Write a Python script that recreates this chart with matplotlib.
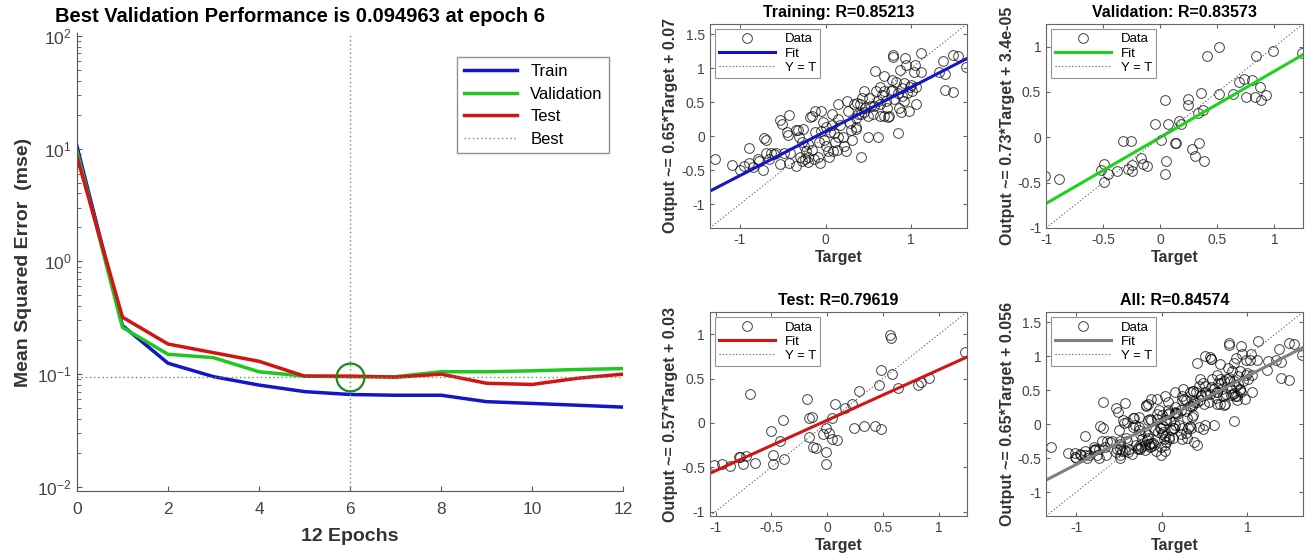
import numpy as np
import matplotlib
matplotlib.use("Agg")
import matplotlib.pyplot as plt
from matplotlib.ticker import LogLocator, NullFormatter

# performance curve (mse per epoch)
epochs = list(range(13))
mse_train = [10.5, 0.27, 0.125, 0.095, 0.080, 0.070, 0.066, 0.065, 0.065, 0.057, 0.055, 0.053, 0.051]
mse_val = [9.5, 0.26, 0.150, 0.140, 0.105, 0.096, 0.094963, 0.095, 0.105, 0.105, 0.107, 0.110, 0.112]
mse_test = [8.5, 0.32, 0.185, 0.155, 0.130, 0.096, 0.096, 0.094, 0.100, 0.083, 0.081, 0.092, 0.100]
best_epoch = 6
best_perf = 0.094963

# regression data (target, output)
train_t = [-1.29, -1.09, -1.0, -0.95, -0.89, -0.89, -0.85, -0.78, -0.79, -0.73, -0.72, -0.69, -0.70,
           -0.64, -0.58, -0.53, -0.53, -0.51, -0.43, -0.45, -0.44, -0.43, -0.49, -0.34, -0.32, -0.26,
           -0.35, -0.30, -0.27, -0.25, -0.23, -0.20, -0.18, -0.16, -0.20, -0.16, -0.14, -0.12, -0.09,
           -0.07, -0.05, -0.03, -0.02, 0.00, 0.03, 0.04, 0.07, 0.08, 0.10, 0.11, 0.13, 0.15, 0.15, 0.17,
           0.20, 0.22, 0.24, 0.25, 0.26, 0.28, 0.30, 0.31, 0.33, 0.35, 0.36, 0.37, 0.40, 0.41, 0.41,
           0.43, 0.45, 0.46, 0.49, 0.50, 0.51, 0.53, 0.55, 0.58, 0.59, 0.61, 0.61, 0.64, 0.64, 0.66,
           0.68, 0.70, 0.72, 0.73, 0.74, 0.76, 0.77, 0.79, 0.79, 0.80, 0.82, 0.84, 0.84, 0.86, 0.87,
           0.88, 0.89, 0.91, 0.93, 0.94, 0.95, 0.97, 0.98, 1.01, 1.03, 1.04, 1.05, 1.05, 1.11, 1.12,
           1.33, 1.37, 1.39, 1.39, 1.49, 1.49, 1.55, 1.64,
           -0.31, -0.24, -0.28, -0.20, -0.08, 0.00, 0.05, 0.09, 0.15, 0.35, 0.38, 0.45, 0.56, 0.64,
           0.68, 0.68, 0.78, 0.89, 0.91, 1.00, -0.66, -0.60, -0.41, -0.12, -0.05]
train_y = [-0.33, -0.42, -0.50, -0.44, -0.40, -0.17, -0.46, -0.36, -0.34, -0.49, -0.02, -0.06, -0.25,
           -0.25, -0.25, -0.41, 0.24, 0.18, 0.31, 0.06, 0.02, -0.39, -0.25, 0.09, 0.09, 0.10,
           -0.44, -0.30, -0.08, -0.15, -0.22, -0.30, 0.28, 0.29, -0.11, -0.20, -0.34, 0.06, -0.30,
           -0.39, 0.37, 0.21, -0.06, -0.15, -0.22, -0.30, 0.33, 0.16, 0.04, -0.08, -0.20, 0.47, 0.25, 0.16,
           -0.01, -0.15, -0.22, 0.52, 0.37, 0.19, 0.09, -0.06, 0.48, 0.27, 0.13, 0.49, 0.47, -0.31, 0.33,
           0.56, 0.66, 0.42, 0.30, -0.01, 0.56, 0.44, 0.33, 0.96, 0.66, 0.52, -0.01, 0.30, 0.73, 0.61,
           0.88, 0.52, 0.42, 0.28, 0.30, 0.66, 0.82, 1.20, 1.17, 0.54, 0.79, 0.64, 0.04, 0.42, 0.97,
           0.35, 0.71, 0.78, 1.15, 1.04, 0.64, 0.37, 0.73, 0.66, 0.95, 1.04, 0.48, 0.73, 0.95, 1.22,
           0.95, 1.11, 0.91, 0.68, 1.19, 0.65, 1.18, 1.02,
           -0.01, -0.34, -0.37, -0.38, -0.08, 0.14, 0.06, -0.22, -0.01, 0.10, 0.33, 0.35, 0.45, 0.47,
           0.30, 0.66, 0.68, 0.59, 0.52, 0.76, -0.34, -0.26, -0.25, 0.37, 0.07]

val_t = [-1.01, -0.89, -0.49, -0.52, -0.49, -0.46, -0.38, -0.33, -0.26, -0.28, -0.25, -0.25, -0.17,
         -0.15, -0.12, -0.05, 0.04, 0.01, 0.05, 0.04, 0.07, 0.13, 0.14, 0.16, 0.18, 0.24, 0.24, 0.28,
         0.30, 0.34, 0.33, 0.37, 0.36, 0.38, 0.41, 0.51, 0.51, 0.64, 0.69, 0.73, 0.75, 0.80, 0.83,
         0.84, 0.87, 0.88, 0.93, 0.99, 1.24]
val_y = [-0.43, -0.46, -0.29, -0.36, -0.49, -0.40, -0.37, -0.04, -0.04, -0.35, -0.37, -0.30, -0.23,
         -0.29, -0.32, 0.15, 0.41, -0.03, -0.26, -0.40, 0.15, -0.06, -0.06, 0.18, 0.15, 0.42, 0.36, -0.13,
         -0.21, -0.06, 0.27, 0.30, 0.49, -0.26, 0.90, 1.00, 0.48, 0.48, 0.61, 0.64, 0.45, 0.63, 0.45,
         0.90, 0.56, 0.41, 0.47, 0.95, 0.93]

test_t = [-1.01, -0.94, -0.87, -0.79, -0.78, -0.73, -0.75, -0.65, -0.69, -0.50, -0.49, -0.49, -0.42,
          -0.40, -0.39, -0.18, -0.16, -0.14, -0.16, -0.13, -0.10, -0.04, -0.01, -0.01, -0.01, 0.02,
          0.04, 0.07, 0.04, 0.09, 0.16, 0.22, 0.24, 0.28, 0.33, 0.43, 0.46, 0.48, 0.48, 0.56, 0.57,
          0.58, 0.63, 0.81, 0.84, 0.91, 1.23]
test_y = [-0.48, -0.46, -0.49, -0.38, -0.38, -0.37, -0.46, -0.45, 0.33, -0.09, -0.36, -0.46, -0.20,
          0.03, -0.41, 0.27, 0.06, 0.07, -0.16, -0.27, -0.28, -0.12, -0.06, -0.33, -0.46, -0.11,
          0.06, 0.21, -0.18, -0.19, 0.17, 0.21, -0.06, 0.36, -0.03, -0.04, 0.43, -0.07, 0.60, 0.99, 0.96,
          0.55, 0.39, 0.43, 0.46, 0.51, 0.80]

panel_names = ["Training", "Validation", "Test", "All"]
panel_r = [0.85213, 0.83573, 0.79619, 0.84574]
fit_slope = [0.65, 0.73, 0.57, 0.65]
fit_icpt = [0.07, 3.4e-05, 0.03, 0.056]
fit_text = ["0.07", "3.4e-05", "0.03", "0.056"]
fit_colors = ["#1414c8", "#1ed21e", "#d21414", "#808080"]
panel_lims = [(-1.35, 1.65), (-1.0, 1.25), (-1.05, 1.25), (-1.35, 1.65)]
panel_ticks = [[-1, 0, 1], [-1, -0.5, 0, 0.5, 1], [-1, -0.5, 0, 0.5, 1], [-1, 0, 1]]
panel_yticks = [[-1, -0.5, 0, 0.5, 1, 1.5], [-1, -0.5, 0, 0.5, 1], [-1, -0.5, 0, 0.5, 1],
                [-1, -0.5, 0, 0.5, 1, 1.5]]

plt.rcParams['font.family'] = ['Liberation Sans', 'DejaVu Sans']
tick_gray = "#444444"
best_color = "#5f9a5f"

fig = plt.figure(figsize=(13.13, 5.57), dpi=100)

# ---- performance plot
ax = fig.add_axes([0.0586, 0.1185, 0.4160, 0.8223])
ax.semilogy(epochs, mse_train, color="#1414c8", lw=2.5, label="Train")
ax.semilogy(epochs, mse_val, color="#1ec81e", lw=2.5, label="Validation")
ax.semilogy(epochs, mse_test, color="#d21414", lw=2.5, label="Test")
ax.axvline(best_epoch, color=best_color, lw=1, ls=(0, (1, 2)), label="Best")
ax.axhline(best_perf, color=best_color, lw=1, ls=(0, (1, 2)))
ax.plot(best_epoch, best_perf, 'o', ms=20, mfc='none', mec="#1a8a1a", mew=1.6)
ax.set_xlim(0, 12)
ax.set_ylim(0.0092, 106)
ax.set_xticks(range(0, 13, 2))
ax.set_yticks([0.01, 0.1, 1, 10, 100])
ax.yaxis.set_minor_locator(LogLocator(base=10, subs=np.arange(2, 10), numticks=20))
ax.yaxis.set_minor_formatter(NullFormatter())
for s in ["top", "right"]:
    ax.spines[s].set_visible(False)
for s in ["left", "bottom"]:
    ax.spines[s].set_color("#555555")
ax.tick_params(which="both", direction="in", colors="#555555", labelcolor=tick_gray, labelsize=12.5)
ax.tick_params(axis="x", pad=8)
ax.tick_params(which="minor", length=3)
ax.set_title("Best Validation Performance is 0.094963 at epoch 6", fontsize=14.5,
             fontweight="bold", loc="left", x=-0.04, pad=8)
ax.set_xlabel("12 Epochs", fontsize=14, fontweight="bold", color="#333333", labelpad=8)
ax.set_ylabel("Mean Squared Error  (mse)", fontsize=14, fontweight="bold", color="#333333")
leg = ax.legend(loc="upper right", bbox_to_anchor=(0.99, 0.965), fontsize=12, handlelength=3.2,
                fancybox=False, edgecolor="#777777", borderpad=0.4, labelspacing=0.45)
leg.get_frame().set_linewidth(1.0)

# ---- regression plots
all_t = train_t + val_t + test_t
all_y = train_y + val_y + test_y
panel_data = [(train_t, train_y), (val_t, val_y), (test_t, test_y), (all_t, all_y)]
positions = [[0.5407, 0.5907, 0.1957, 0.3662], [0.7967, 0.5907, 0.1957, 0.3662],
             [0.5407, 0.0736, 0.1957, 0.3662], [0.7967, 0.0736, 0.1957, 0.3662]]

for i in range(4):
    ax = fig.add_axes(positions[i])
    t, y = panel_data[i]
    lo, hi = panel_lims[i]
    xs = np.array([lo, hi])
    ax.plot(t, y, 'o', ms=7, mfc='none', mec='black', mew=0.7, alpha=0.75, label="Data")
    ax.plot(xs, fit_slope[i] * xs + fit_icpt[i], color=fit_colors[i], lw=2.2, label="Fit")
    ax.plot(xs, xs, color="#555555", lw=0.8, ls=(0, (1, 2)), label="Y = T")
    ax.set_xlim(lo, hi)
    ax.set_ylim(lo, hi)
    ax.set_xticks(panel_ticks[i])
    ax.set_yticks(panel_yticks[i])
    ax.set_xticklabels([f"{v:g}" for v in panel_ticks[i]])
    ax.set_yticklabels([f"{v:g}" for v in panel_yticks[i]])
    for s in ax.spines.values():
        s.set_color("#666666")
    ax.tick_params(direction="in", top=True, right=True, colors="#666666",
                   labelcolor=tick_gray, labelsize=10, length=3)
    ax.set_title(f"{panel_names[i]}: R={panel_r[i]}", fontsize=11.5, fontweight="bold", pad=5)
    ax.set_xlabel("Target", fontsize=11.5, fontweight="bold", color="#333333", labelpad=2)
    ax.set_ylabel(f"Output ~= {fit_slope[i]:g}*Target + {fit_text[i]}", fontsize=11.5,
                  fontweight="bold", color="#333333", labelpad=2)
    lg = ax.legend(loc="upper left", fontsize=9.5, fancybox=False, edgecolor="#777777",
                   handlelength=4.2, borderpad=0.3, labelspacing=0.15, borderaxespad=0.4)
    lg.get_frame().set_linewidth(0.8)

fig.savefig("out.png", dpi=100)
